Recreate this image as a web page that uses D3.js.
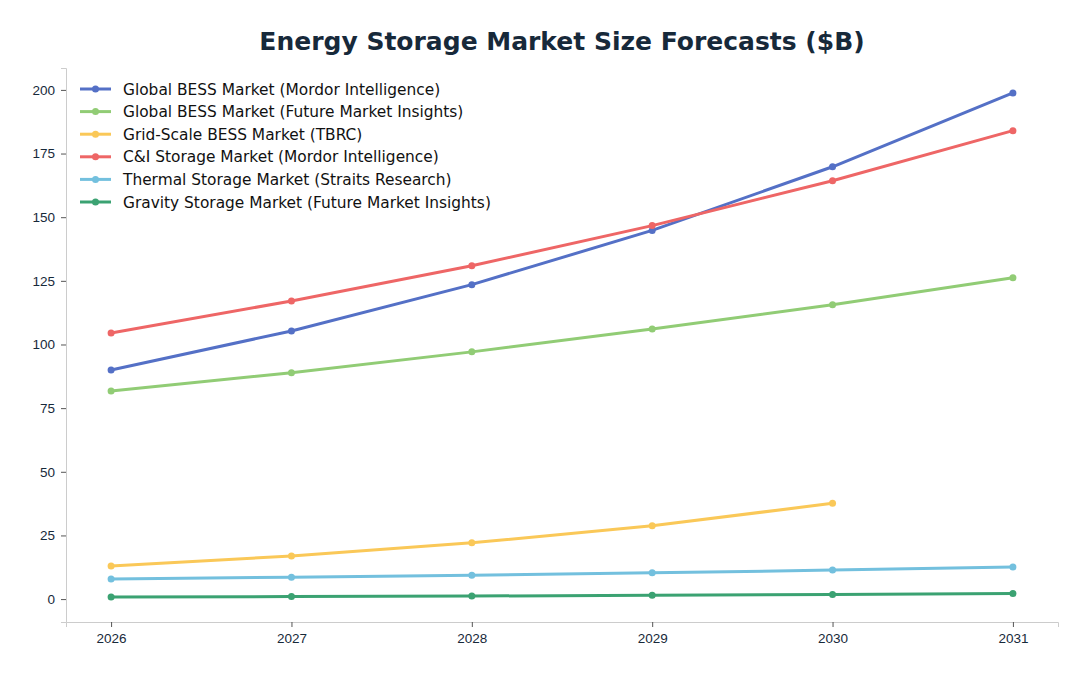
<!DOCTYPE html><html><head><meta charset="utf-8">
<script src="https://cdn.jsdelivr.net/npm/d3@7"></script>
<style>body{margin:0;background:#fff;font-family:"DejaVu Sans",sans-serif}</style></head><body>
<svg id="c" width="1088" height="676"></svg>
<script>
const years=[2026,2027,2028,2029,2030,2031];
const mordorBess=[90.0,105.3,123.5,144.8,169.8,198.8];
const fmiBess=[81.7,88.9,97.1,106.1,115.6,126.2];
const tbrcGrid=[13.0,16.9,22.1,28.8,37.6];
const mordorCI=[104.5,117.1,130.9,146.7,164.3,184.0];
const thermal=[7.9,8.6,9.4,10.3,11.4,12.6];
const gravity=[0.8,1.0,1.2,1.5,1.8,2.2];
const yTicks=[0,25,50,75,100,125,150,175,200];
const series=[
 {name:"Global BESS Market (Mordor Intelligence)",v:mordorBess,c:"#5470c6"},
 {name:"Global BESS Market (Future Market Insights)",v:fmiBess,c:"#91cc75"},
 {name:"Grid-Scale BESS Market (TBRC)",v:tbrcGrid,c:"#fac858"},
 {name:"C&I Storage Market (Mordor Intelligence)",v:mordorCI,c:"#ee6666"},
 {name:"Thermal Storage Market (Straits Research)",v:thermal,c:"#73c0de"},
 {name:"Gravity Storage Market (Future Market Insights)",v:gravity,c:"#3ba272"}];
const svg=d3.select("#c");
const L=66,R=1058,T=68,B=622;
const x=d3.scaleLinear().domain([2025.75,2031.25]).range([L,R]);
const y=d3.scaleLinear().domain([-9,208.6]).range([B,T]);
svg.append("text").attr("x",562).attr("y",50).attr("text-anchor","middle").attr("font-size",25).attr("font-weight","bold").attr("fill","#17293a").text("Energy Storage Market Size Forecasts ($B)");
const xa=svg.append("g").attr("transform",`translate(0,${B})`).call(d3.axisBottom(x).tickValues(years).tickFormat(d3.format("d")).tickSize(5).tickPadding(6));
const ya=svg.append("g").attr("transform",`translate(${L},0)`).call(d3.axisLeft(y).tickValues(yTicks).tickSize(5).tickPadding(6));
[xa,ya].forEach(a=>{a.selectAll("path").attr("stroke","#ccc");a.selectAll("line").attr("stroke","#555");a.selectAll("text").attr("font-size",13.5).attr("fill","#17293a");});
const line=d3.line().x((d,i)=>x(years[i])).y(d=>y(d));
series.forEach(s=>{
 svg.append("path").attr("d",line(s.v)).attr("fill","none").attr("stroke",s.c).attr("stroke-width",3);
 svg.selectAll(null).data(s.v).enter().append("circle").attr("cx",(d,i)=>x(years[i])).attr("cy",d=>y(d)).attr("r",3.5).attr("fill",s.c);
});
const lg=svg.append("g");
series.forEach((s,i)=>{const yy=89+i*22.6;
 lg.append("line").attr("x1",80).attr("x2",111).attr("y1",yy).attr("y2",yy).attr("stroke",s.c).attr("stroke-width",3);
 lg.append("circle").attr("cx",95.5).attr("cy",yy).attr("r",3.5).attr("fill",s.c);
 lg.append("text").attr("x",123).attr("y",yy+5.5).attr("font-size",15.4).attr("fill","#111").text(s.name);});
</script></body></html>
